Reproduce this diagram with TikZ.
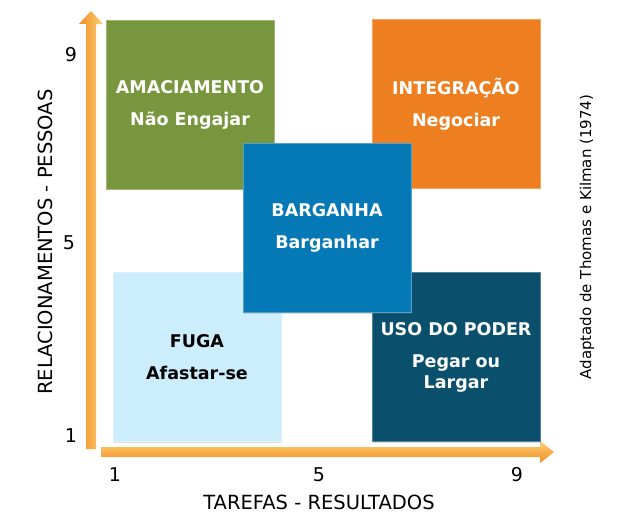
\documentclass[tikz,border=0pt]{standalone}
\usepackage{fontspec}
\setmainfont{DejaVu Sans}
\usepackage{tikz}
\usetikzlibrary{shadows}

\definecolor{amacgreen}{RGB}{120,150,62}
\definecolor{integorange}{RGB}{238,127,33}
\definecolor{bargblue}{RGB}{5,121,181}
\definecolor{fugablue}{RGB}{204,238,252}
\definecolor{poderteal}{RGB}{10,79,108}
\definecolor{axisdark}{RGB}{240,140,40}
\definecolor{axislight}{RGB}{255,208,112}

\begin{document}
\begin{tikzpicture}[x=1pt, y=-1pt,
      quadrant/.style = {
        rectangle, fill=#1, draw=#1!70!white, line width=0.8pt,
        minimum width=168pt, minimum height=169pt, inner sep=0pt,
        align=center, text=white,
        font=\fontsize{17.5}{21}\selectfont\bfseries,
        drop shadow={shadow xshift=1pt, shadow yshift=-1pt, opacity=0.25}
      },
      ticklabel/.style = {font=\fontsize{19}{22}\selectfont, inner sep=0pt},
      axistitle/.style = {font=\fontsize{19.5}{23}\selectfont, inner sep=0pt}
    ]

    \useasboundingbox (0,0) rectangle (623,526);

    % eixos
    \shade[left color=axisdark, right color=axislight]
      (86,449) -- (86,24) -- (79,24) -- (91,11) -- (103,24) -- (96,24) -- (96,449) -- cycle;
    \shade[top color=axislight, bottom color=axisdark]
      (101,447) -- (540,447) -- (540,441) -- (554,452) -- (540,463) -- (540,457) -- (101,457) -- cycle;

    \node[ticklabel] (y9) at (71,55)  {9};
    \node[ticklabel] (y5) at (69,243) {5};
    \node[ticklabel] (y1) at (71,436) {1};
    \node[ticklabel] (x1) at (115,475) {1};
    \node[ticklabel] (x5) at (319,475) {5};
    \node[ticklabel] (x9) at (517,475) {9};

    \node[axistitle] (xtitle) at (319,502) {TAREFAS - RESULTADOS};
    \node[axistitle, rotate=90] (ytitle) at (45,242) {RELACIONAMENTOS - PESSOAS};
    \node[rotate=90, inner sep=0pt, font=\fontsize{15}{18}\selectfont] (source) at (587,237)
      {Adaptado de Thomas e Kilman (1974)};

    % quadrantes
    \node[quadrant=amacgreen]   (amaciamento) at (190,105) {AMACIAMENTO\\[11pt]Não Engajar};
    \node[quadrant=integorange] (integracao)  at (456,104) {INTEGRAÇÃO\\[11pt]Negociar};
    \node[quadrant=fugablue, text=black] (fuga) at (197,357) {FUGA\\[11pt]Afastar-se};
    \node[quadrant=poderteal]   (poder)       at (456,357) {USO DO PODER\\[11pt]Pegar ou\\Largar};
    \node[quadrant=bargblue]    (barganha)    at (327,228) {BARGANHA\\[11pt]Barganhar};

  \end{tikzpicture}
\end{document}
